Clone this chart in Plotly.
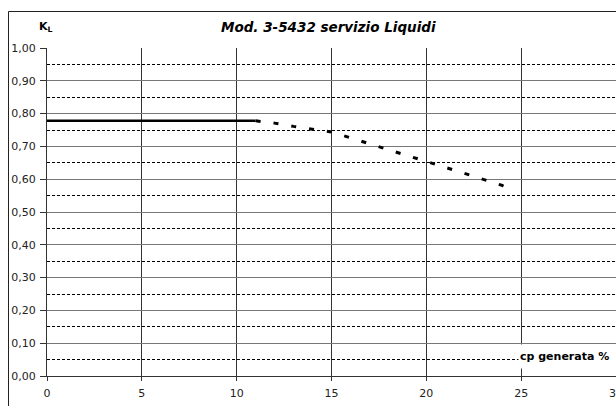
import plotly.graph_objects as go

# Data
solid_x = [0, 11]
solid_y = [0.778, 0.778]
dash_x = [11, 12, 13, 14, 15, 16, 17, 18, 19, 20, 21, 22, 23, 24, 24.4]
dash_y = [0.778, 0.771, 0.761, 0.753, 0.744, 0.726, 0.707, 0.690, 0.672, 0.655, 0.636, 0.618, 0.600, 0.581, 0.566]
x_ticks = [0, 5, 10, 15, 20, 25, 30]
y_ticks = [0.0, 0.1, 0.2, 0.3, 0.4, 0.5, 0.6, 0.7, 0.8, 0.9, 1.0]

title_text = "Mod. 3-5432 servizio Liquidi"
y_label = "K<sub>L</sub>"
x_label = "cp generata %"

FONT = "DejaVu Sans, Arial, sans-serif"

W, H = 616, 406
L = 47
T = 48
BOT = 376
PW = W - L
PH = BOT - T

def ppx(xr):
    return (xr - L) / PW

def py(yr):
    return (BOT - yr) / PH

fig = go.Figure()
fig.add_trace(go.Scatter(x=solid_x, y=solid_y, mode="lines",
                         line=dict(color="black", width=2.5), showlegend=False))
fig.add_trace(go.Scatter(x=dash_x, y=dash_y, mode="lines",
                         line=dict(color="black", width=3, dash="5px,13px"), showlegend=False))

fig.update_layout(
    width=W, height=H,
    margin=dict(l=L, r=0, t=T, b=H - BOT, pad=0, autoexpand=False),
    paper_bgcolor="white", plot_bgcolor="white",
    separators=",.",
    font=dict(family=FONT, size=11, color="black"),
    showlegend=False,
)
fig.update_xaxes(
    range=[0, 30], tickvals=x_ticks, ticks="outside", ticklen=4, tickcolor="#333",
    showgrid=True, gridcolor="#333", gridwidth=1,
    showline=True, linecolor="#333", linewidth=1,
    zeroline=False, ticklabeloverflow="allow", ticklabelstandoff=3, automargin=False,
    tickfont=dict(size=11, color="#222"),
)
fig.update_yaxes(
    range=[0, 1], tickvals=y_ticks, tickformat=".2f", ticks="outside", ticklen=6, tickcolor="#333",
    showgrid=True, gridcolor="#777", gridwidth=1.2,
    showline=True, linecolor="#333", linewidth=1,
    zeroline=False, ticklabelstandoff=2, automargin=False,
    minor=dict(dtick=0.05, showgrid=True, gridcolor="black", griddash="3px,2px", gridwidth=1, ticks=""),
    tickfont=dict(size=11, color="#222"),
)

bx = ppx(8.5)
by = py(11.5)
fig.add_shape(type="line", xref="paper", yref="paper", x0=bx, x1=1.2, y0=by, y1=by,
              line=dict(color="#222", width=1))
fig.add_shape(type="line", xref="paper", yref="paper", x0=bx, x1=bx, y0=by, y1=-0.3,
              line=dict(color="#222", width=1))

fig.add_annotation(text="<b><i>" + title_text + "</i></b>", xref="paper", yref="paper",
                   x=ppx(328), y=py(27), showarrow=False,
                   xanchor="center", yanchor="middle", font=dict(size=13.5, family=FONT))
fig.add_annotation(text="<b>" + y_label + "</b>", xref="paper", yref="paper",
                   x=ppx(37), y=py(27), showarrow=False,
                   xanchor="left", yanchor="middle", font=dict(size=11, family=FONT))
fig.add_annotation(text="<b>" + x_label + "</b>", xref="paper", yref="paper",
                   x=ppx(518), y=py(356), showarrow=False,
                   xanchor="left", yanchor="middle", bgcolor="white", borderpad=1,
                   width=110, height=21, align="left",
                   font=dict(size=11, family=FONT))

fig.write_html(
    "out.html",
    config={"displayModeBar": False},
    post_script="document.body.style.margin='0';document.body.style.overflow='hidden';",
)
